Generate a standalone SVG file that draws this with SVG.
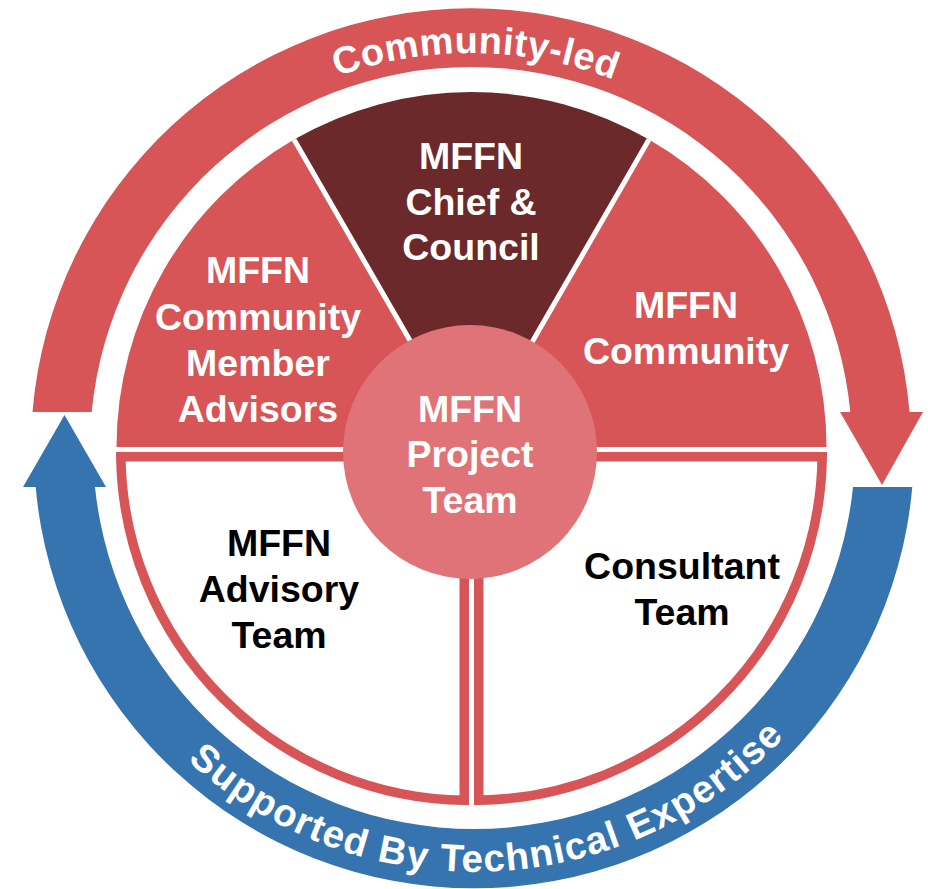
<svg xmlns="http://www.w3.org/2000/svg" width="928" height="889" viewBox="0 0 928 889">
<defs>
<style>
.lbl{font-family:"Liberation Sans",Arial,sans-serif;font-weight:700;font-size:37.5px;text-anchor:middle}
.w{fill:#ffffff}
.k{fill:#000000}
.red{fill:#d75457}
.dark{fill:#6b292c}
.quad{fill:#ffffff;stroke:#d75457;stroke-width:9.5;stroke-linejoin:miter}
.sep{stroke:#ffffff;stroke-width:5;fill:none}
.arc{font-family:"Liberation Sans",Arial,sans-serif;font-weight:700;fill:#ffffff;text-anchor:middle}
</style>
<path id="topArc" d="M 76 448 A 395 395 0 0 1 866 448"/>
<path id="botArc" d="M 50 448 A 424 424 0 0 0 898 448"/>
</defs>
<rect width="928" height="889" fill="#ffffff"/>

<g id="connectors">
<path id="community-led-arrow" fill="#d75457" d="M 32.5 412 A 440 440 0 0 1 909.5 412 L 923 412 L 882 485 L 840 412 L 850.3 412 A 381 381 0 0 0 91.7 412 Z"/>
<path id="expertise-arrow" fill="#3674b0" d="M 912.3 487 A 440 440 0 0 1 35.7 487 L 23 487 L 64.5 415 L 106 487 L 95 487 A 381 381 0 0 0 853 487 Z"/>
<text class="arc" font-size="38" letter-spacing="0.5" text-anchor="middle"><textPath href="#topArc" startOffset="625">Community-led</textPath></text>
<text class="arc" font-size="38.5" letter-spacing="1.3" text-anchor="middle"><textPath href="#botArc" startOffset="683">Supported By Technical Expertise</textPath></text>
</g>

<g id="community-member-advisors">
<path class="red" d="M 471.5 447 L 116.5 447 A 355 355 0 0 1 294 139.6 Z"/>
<text class="lbl w" x="258" y="283">MFFN</text>
<text class="lbl w" x="258" y="330">Community</text>
<text class="lbl w" x="258" y="376">Member</text>
<text class="lbl w" x="258" y="422">Advisors</text>
</g>

<g id="chief-council">
<path class="dark" d="M 471.5 447 L 294 139.6 A 355 355 0 0 1 649 139.6 Z"/>
<text class="lbl w" x="471" y="169">MFFN</text>
<text class="lbl w" x="471" y="215">Chief &amp;</text>
<text class="lbl w" x="471" y="260">Council</text>
</g>

<g id="community">
<path class="red" d="M 471.5 447 L 649 139.6 A 355 355 0 0 1 826.5 447 Z"/>
<text class="lbl w" x="686" y="318">MFFN</text>
<text class="lbl w" x="686" y="364">Community</text>
</g>

<g id="separators">
<line class="sep" x1="471.5" y1="447" x2="294" y2="139.6"/>
<line class="sep" x1="471.5" y1="447" x2="649" y2="139.6"/>
</g>

<g id="advisory-team">
<path class="quad" d="M 464.25 456.75 L 120.8 456.75 A 348.25 348.25 0 0 0 464.25 800.2 Z"/>
<text class="lbl k" x="279" y="556">MFFN</text>
<text class="lbl k" x="279" y="602">Advisory</text>
<text class="lbl k" x="279" y="648">Team</text>
</g>

<g id="consultant-team">
<path class="quad" d="M 478.75 456.75 L 822.2 456.75 A 348.25 348.25 0 0 1 478.75 800.2 Z"/>
<text class="lbl k" x="682" y="579">Consultant</text>
<text class="lbl k" x="682" y="625">Team</text>
</g>

<g id="project-team">
<circle cx="470" cy="452" r="127" fill="#df7377"/>
<text class="lbl w" x="470" y="422">MFFN</text>
<text class="lbl w" x="470" y="467">Project</text>
<text class="lbl w" x="470" y="513">Team</text>
</g>
</svg>
